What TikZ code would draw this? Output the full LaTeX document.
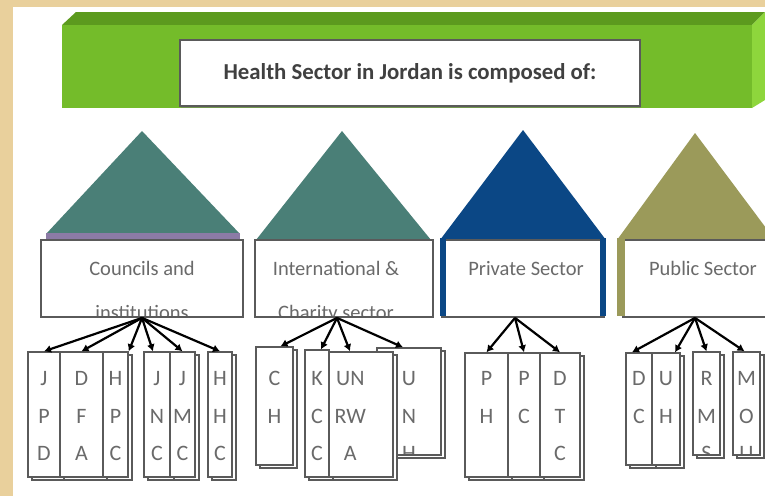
\documentclass[tikz,border=0pt]{standalone}
\usepackage{fontspec}
\setmainfont{Carlito}
\usepackage{tikz}
\usetikzlibrary{arrows.meta, positioning, fit, shadows}

\definecolor{bgtan}{HTML}{E9D09C}
\definecolor{bannerfront}{HTML}{74BC2A}
\definecolor{bannertop}{HTML}{5C9A1E}
\definecolor{bannerside}{HTML}{8ED63C}
\definecolor{houseteal}{HTML}{4A7F77}
\definecolor{housepurple}{HTML}{8C7BA6}
\definecolor{houseblue}{HTML}{0B4785}
\definecolor{houseolive}{HTML}{9B9A5A}
\definecolor{boxline}{HTML}{5A5A5A}
\definecolor{textgray}{HTML}{6A6A6A}

\begin{document}
\begin{tikzpicture}[x=1pt, y=-1pt,
    title box/.style = {
        draw=boxline,
        line width=1.5pt,
        fill=white,
        inner sep=0pt,
        drop shadow={shadow xshift=1pt, shadow yshift=-2pt, fill=black!55}
    },
    sector box/.style = {
        draw=boxline,
        line width=1.8pt,
        fill=white,
        inner sep=0pt
    },
    sector font/.style = {
        anchor=base,
        font=\fontsize{20.5}{20.5}\selectfont,
        text=textgray
    },
    sector text/.style n args = {3}{
        path picture={
            \node[sector font, xshift=#1] at (path picture bounding box.center |- line1) {#2};
            \node[sector font, xshift=#1] at (path picture bounding box.center |- line2) {#3};
        }
    },
    leaf/.style = {
        draw=boxline,
        line width=1.4pt,
        fill=white,
        inner sep=0pt,
        copy shadow={shadow xshift=4pt, shadow yshift=-3pt}
    },
    leaf font/.style = {
        anchor=base,
        font=\fontsize{22}{22}\selectfont,
        text=textgray
    },
    leaf text/.style = {
        path picture={
            \foreach \ch [count=\i] in {#1}
                \node[leaf font] at (path picture bounding box.center |- row\i) {\ch};
        }
    },
    leaf text right/.style = {
        path picture={
            \foreach \ch [count=\i] in {#1}
                \node[leaf font, anchor=base east, xshift=-10pt] at (path picture bounding box.east |- row\i) {\ch};
        }
    },
    link/.style = {-{Latex[length=7pt, width=8pt]}, line width=2.2pt, black}
]

\useasboundingbox (0,0) rectangle (765,496);
\fill[bgtan] (0,0) rectangle (765,496);
\fill[white] (13,7) rectangle (765,496);

% text baselines
\coordinate (line1) at (0,275);
\coordinate (line2) at (0,319);
\coordinate (row1) at (0,385);
\coordinate (row2) at (0,423);
\coordinate (row3) at (0,460);

% banner
\fill[bannertop] (62,25) -- (76,12) -- (765,12) -- (752,25) -- cycle;
\fill[bannerside] (752,25) -- (765,12) -- (765,100) -- (752,108) -- cycle;
\fill[bannerfront] (62,25) rectangle (752,108);

\node[title box, fit={(180,40) (640,106)}] (titlebox) {};
\node[font=\fontsize{22.8}{22.8}\selectfont\bfseries, text=black!75] (title) at (titlebox.center) {Health Sector in Jordan is composed of:};

% roofs
\fill[houseteal] (142,131) -- (240,234) -- (46,234) -- cycle;
\fill[housepurple] (46,233) rectangle (240,241);
\fill[houseteal] (342,131) -- (431,240) -- (256,240) -- cycle;
\fill[houseblue] (523,130) -- (606,240) -- (440,240) -- cycle;
\fill[houseolive] (695,133) -- (775,240) -- (617,240) -- cycle;

% sectors
\node[sector box, fit={(41,240) (243,317)}, sector text={0pt}{Councils and}{institutions}] (council) {};
\node[sector box, fit={(255,240) (433,317)}, sector text={-8pt}{International \&}{Charity sector}] (intl) {};
\node[sector box, fit={(442,240) (604,317)}, sector text={3pt}{Private Sector}{}] (priv) {};
\node[sector box, fit={(623,240) (775,317)}, sector text={4pt}{Public Sector}{}] (pub) {};
\fill[houseblue] (440,238) rectangle (446,316);
\fill[houseblue] (600,238) rectangle (606,316);
\fill[houseolive] (617,238) rectangle (625,316);

% members
\node[leaf, fit={(28,352) (60,477)}, leaf text={J,P,D}] (jpd) {};
\node[leaf, fit={(60,352) (103,477)}, leaf text={D,F,A}] (dfa) {};
\node[leaf, fit={(103,352) (128,477)}, leaf text={H,P,C}] (hpc) {};
\node[leaf, fit={(144,352) (170,477)}, leaf text={J,N,C}] (jnc) {};
\node[leaf, fit={(170,352) (195,477)}, leaf text={J,M,C}] (jmc) {};
\node[leaf, fit={(208,352) (232,477)}, leaf text={H,H,C}] (hhc) {};

\node[leaf, fit={(256,347) (293,465)}, leaf text={C,H}] (ch) {};
\node[leaf, fit={(305,350) (329,477)}, leaf text={K,C,C}] (kcc) {};
\node[leaf, fit={(377,348) (441,455)}, leaf text={U,N,H}] (unh) {};
\node[leaf, fit={(329,352) (393,477)}, leaf text right={UN,RW,A}] (unrwa) {};

\node[leaf, fit={(465,353) (508,477)}, leaf text={P,H}] (ph) {};
\node[leaf, fit={(508,353) (540,477)}, leaf text={P,C}] (pc) {};
\node[leaf, fit={(540,353) (580,477)}, leaf text={D,T,C}] (dtc) {};

\node[leaf, fit={(626,353) (652,465)}, leaf text={D,C}] (dc) {};
\node[leaf, fit={(652,353) (680,465)}, leaf text={U,H}] (uh) {};
\node[leaf, fit={(693,352) (720,455)}, leaf text={R,M,S}] (rms) {};
\node[leaf, fit={(733,352) (760,455)}, leaf text={M,O,U}] (mou) {};

% links
\draw[link] (council.south) -- (jpd.north);
\draw[link] (council.south) -- (dfa.north);
\draw[link] (council.south) -- (hpc.north east);
\draw[link] (council.south) -- ([xshift=-4pt]jnc.north);
\draw[link] (council.south) -- (jmc.north);
\draw[link] (council.south) -- (hhc.north);

\draw[link] ([xshift=-7pt]intl.south) -- ([xshift=6pt]ch.north);
\draw[link] ([xshift=-7pt]intl.south) -- ([xshift=4pt]kcc.north);
\draw[link] ([xshift=-7pt]intl.south) -- ([xshift=-11pt]unrwa.north);
\draw[link] ([xshift=-7pt]intl.south) -- ([xshift=-6pt]unh.north);

\draw[link] ([xshift=-8pt]priv.south) -- (ph.north);
\draw[link] ([xshift=-8pt]priv.south) -- (pc.north);
\draw[link] ([xshift=-8pt]priv.south) -- (dtc.north);

\draw[link] ([xshift=-4pt]pub.south) -- ([xshift=-7pt]dc.north);
\draw[link] ([xshift=-4pt]pub.south) -- ([xshift=9pt]uh.north);
\draw[link] ([xshift=-4pt]pub.south) -- (rms.north);
\draw[link] ([xshift=-4pt]pub.south) -- ([xshift=-2pt]mou.north);

\end{tikzpicture}
\end{document}
